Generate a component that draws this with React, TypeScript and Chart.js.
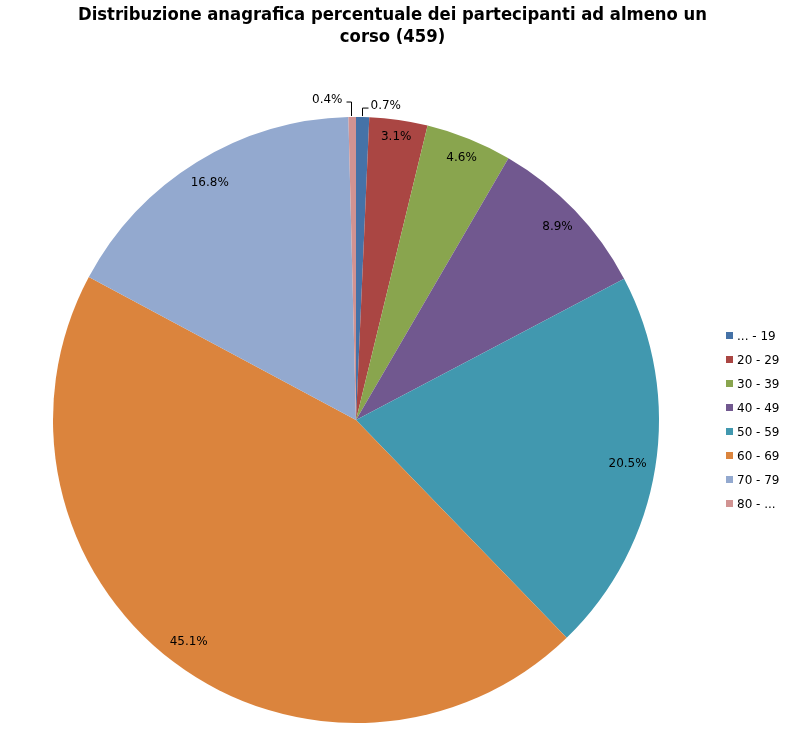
import React, { useEffect, useRef } from "react";
import { Chart, registerables } from "chart.js";

Chart.register(...registerables);

const TITLE_LINES = [
  "Distribuzione anagrafica percentuale dei partecipanti ad almeno un",
  "corso (459)",
];
const CATEGORIES = ["... - 19", "20 - 29", "30 - 39", "40 - 49", "50 - 59", "60 - 69", "70 - 79", "80 - ..."];
const VALUES = [0.7, 3.1, 4.6, 8.9, 20.5, 45.1, 16.8, 0.4];
const COLORS = ["#4572A7", "#AA4643", "#89A54E", "#71588F", "#4198AF", "#DB843D", "#93A9CF", "#D19392"];

const LABEL_FONT = "12px 'DejaVu Sans', Verdana, sans-serif";

const overlayPlugin = {
  id: "overlay",
  afterDraw(chart: any) {
    const ctx = chart.ctx as CanvasRenderingContext2D;
    const W = chart.width;
    ctx.save();
    // title
    ctx.fillStyle = "#000";
    ctx.textAlign = "center";
    ctx.textBaseline = "middle";
    ctx.font = "bold 18.3px 'DejaVu Sans Condensed', 'DejaVu Sans', sans-serif";
    ctx.fillText(TITLE_LINES[0], W / 2, 15);
    ctx.fillText(TITLE_LINES[1], W / 2, 37);

    // data labels
    const meta = chart.getDatasetMeta(0);
    ctx.font = LABEL_FONT;
    meta.data.forEach((arc: any, i: number) => {
      const { x, y, startAngle, endAngle, outerRadius } = arc.getProps(
        ["x", "y", "startAngle", "endAngle", "outerRadius"],
        true
      );
      const mid = (startAngle + endAngle) / 2;
      const txt = VALUES[i].toFixed(1) + "%";
      const w = ctx.measureText(txt).width;
      const h = 14;
      const ux = Math.cos(mid);
      const uy = Math.sin(mid);
      if (VALUES[i] < 2) {
        // leader line above the slice
        const ex = x + outerRadius * ux;
        const ey = y + outerRadius * uy;
        const goRight = ux >= 0;
        const up = goRight ? 8 : 14;
        ctx.strokeStyle = "#000";
        ctx.lineWidth = 1;
        ctx.beginPath();
        const lx = Math.round(ex) - 0.5;
        ctx.moveTo(lx, ey - 1);
        ctx.lineTo(lx, ey - 1 - up);
        ctx.lineTo(lx + (goRight ? 6 : -5), ey - 1 - up);
        ctx.stroke();
        ctx.textAlign = goRight ? "left" : "right";
        ctx.textBaseline = "middle";
        ctx.fillText(txt, lx + (goRight ? 8 : -9), ey - 1 - up - 2);
        return;
      }
      const ox = (ux >= 0 ? 1 : -1) * w / 2;
      const oy = (uy >= 0 ? 1 : -1) * h / 2;
      const target = outerRadius - 8;
      const b = ux * ox + uy * oy;
      const c = ox * ox + oy * oy - target * target;
      const d = (-2 * b + Math.sqrt(4 * b * b - 4 * c)) / 2;
      ctx.textAlign = "center";
      ctx.textBaseline = "middle";
      ctx.fillText(txt, x + d * ux, y + d * uy);
    });

    // legend
    ctx.font = LABEL_FONT;
    ctx.textAlign = "left";
    ctx.textBaseline = "middle";
    CATEGORIES.forEach((cat, i) => {
      const cy = 336 + i * 24;
      ctx.fillStyle = COLORS[i];
      ctx.fillRect(726, cy - 4, 7, 7);
      ctx.fillStyle = "#000";
      ctx.fillText(cat, 737, cy + 1);
    });
    ctx.restore();
  },
};

export default function App() {
  const ref = useRef<HTMLCanvasElement | null>(null);
  useEffect(() => {
    document.body.style.margin = "0";
    const chart = new Chart(ref.current as HTMLCanvasElement, {
      type: "pie",
      data: {
        labels: CATEGORIES,
        datasets: [
          {
            data: VALUES,
            backgroundColor: COLORS,
            borderWidth: 0,
          },
        ],
      },
      options: {
        responsive: false,
        animation: false,
        layout: { padding: { left: 53, top: 117, right: 126, bottom: 10 } },
        plugins: {
          legend: { display: false },
          tooltip: { enabled: false },
          title: { display: false },
        },
      },
      plugins: [overlayPlugin],
    });
    return () => chart.destroy();
  }, []);
  return (
    <div style={{ position: "absolute", left: 0, top: 0, width: 785, height: 733, background: "#fff" }}>
      <canvas ref={ref} width={785} height={733} style={{ width: 785, height: 733 }} />
    </div>
  );
}
